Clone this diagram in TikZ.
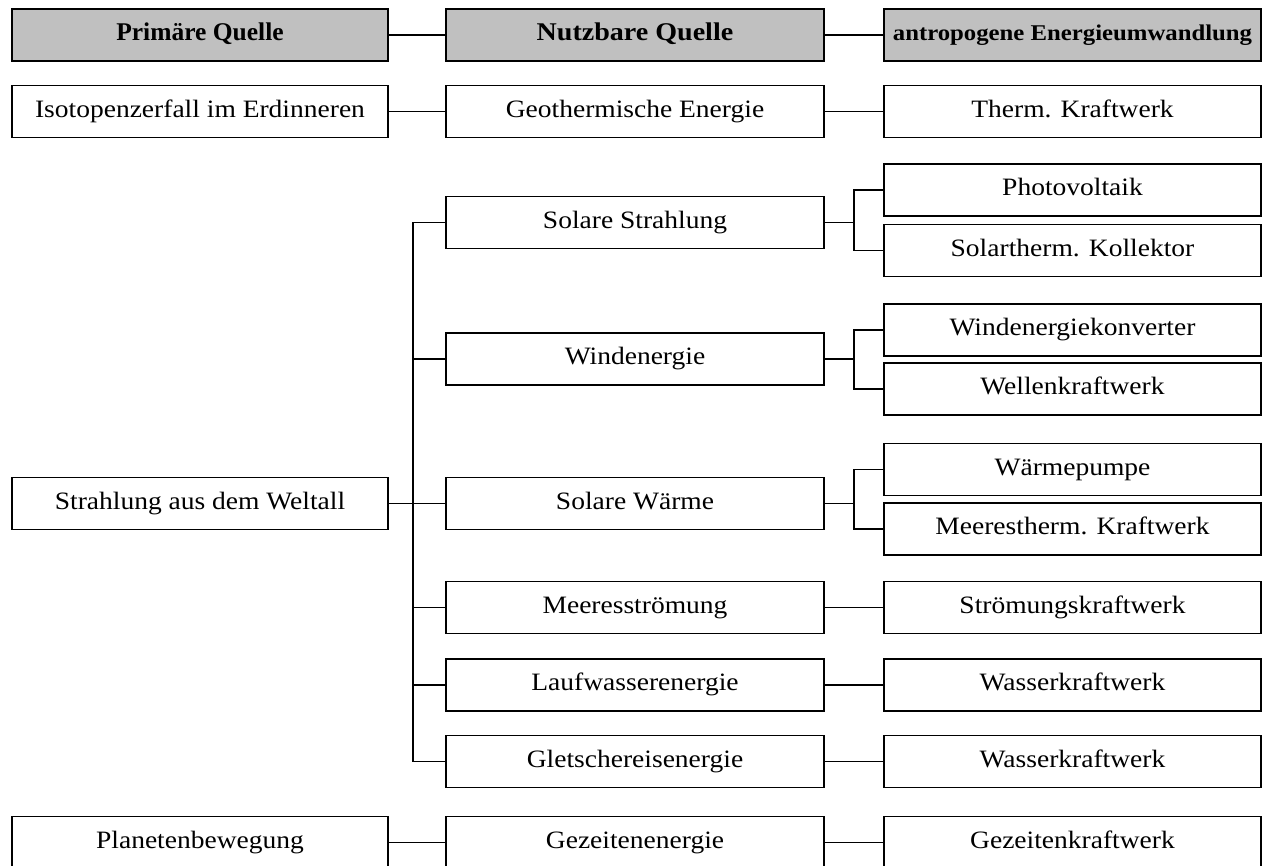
\documentclass[tikz,border=0pt]{standalone}
\usepackage{fontspec}
\setmainfont{Liberation Serif}
\newfontfamily\widefont[FakeStretch=1.1]{Liberation Serif}
\begin{document}
\begin{tikzpicture}[x=1pt,y=-1pt,
  box/.style={draw=black, line width=1.7pt, fill=white, inner sep=0pt, align=center,
    text height=16.5pt, text depth=5.5pt,
    font=\widefont\fontsize{25}{29}\selectfont},
  c1/.style={box, minimum width=376pt, minimum height=52pt},
  c2/.style={box, minimum width=378pt, minimum height=52pt},
  c3/.style={box, minimum width=377pt, minimum height=52pt},
  head/.style={fill=headgray, font=\fontsize{25.5}{29}\selectfont\bfseries},
  link/.style={draw=black, line width=1.8pt}
]
\definecolor{headgray}{HTML}{C0C0C0}
\useasboundingbox (0,0) rectangle (1266,865);
\coordinate (bx) at (413,0);
\coordinate (rx) at (854,0);
% header
\node[c1, head] (hp) at (200,35) {Primäre Quelle};
\node[c2, head, font=\widefont\fontsize{25.5}{29}\selectfont\bfseries] (hn) at (635,35) {Nutzbare Quelle};
\node[c3, head, font=\widefont\fontsize{22.5}{26}\selectfont\bfseries] (ha) at (1072.5,35) {antropogene Energieumwandlung};
% row 2
\node[c1] (iso) at (200,111.5) {Isotopenzerfall im Erdinneren};
\node[c2] (geo) at (635,111.5) {Geothermische Energie};
\node[c3] (thk) at (1072.5,111.5) {Therm. Kraftwerk};
% radiation block
\node[c1] (sw) at (200,503.5) {Strahlung aus dem Weltall};
\node[c2] (ss) at (635,222.5) {Solare Strahlung};
\node[c3] (pv) at (1072.5,190) {Photovoltaik};
\node[c3] (sk) at (1072.5,250.5) {Solartherm. Kollektor};
\node[c2] (we) at (635,359) {Windenergie};
\node[c3] (wk) at (1072.5,330) {Windenergiekonverter};
\node[c3] (wl) at (1072.5,389) {Wellenkraftwerk};
\node[c2] (sr) at (635,503.5) {Solare Wärme};
\node[c3] (wp) at (1072.5,469.5) {Wärmepumpe};
\node[c3] (mk) at (1072.5,529) {Meerestherm. Kraftwerk};
\node[c2] (ms) at (635,607.5) {Meeresströmung};
\node[c3] (sm) at (1072.5,607.5) {Strömungskraftwerk};
\node[c2] (lw) at (635,685) {Laufwasserenergie};
\node[c3] (wa) at (1072.5,685) {Wasserkraftwerk};
\node[c2] (gl) at (635,761.5) {Gletschereisenergie};
\node[c3] (wb) at (1072.5,761.5) {Wasserkraftwerk};
% planets
\node[c1] (pb) at (200,842.5) {Planetenbewegung};
\node[c2] (ge) at (635,842.5) {Gezeitenenergie};
\node[c3] (gk) at (1072.5,842.5) {Gezeitenkraftwerk};
% connectors
\draw[link] (hp.east) -- (hn.west);
\draw[link] (hn.east) -- (ha.west);
\draw[link] (iso.east) -- (geo.west);
\draw[link] (geo.east) -- (thk.west);
\draw[link] (ss.west) -- (ss.west -| bx) -- (gl.west -| bx) -- (gl.west);
\draw[link] (we.west) -- (we.west -| bx);
\draw[link] (ms.west) -- (ms.west -| bx);
\draw[link] (lw.west) -- (lw.west -| bx);
\draw[link] (sw.east) -- (sr.west);
\draw[link] (ss.east) -- (ss.east -| rx);
\draw[link] (pv.west) -- (pv.west -| rx) -- (sk.west -| rx) -- (sk.west);
\draw[link] (we.east) -- (we.east -| rx);
\draw[link] (wk.west) -- (wk.west -| rx) -- (wl.west -| rx) -- (wl.west);
\draw[link] (sr.east) -- (sr.east -| rx);
\draw[link] (wp.west) -- (wp.west -| rx) -- (mk.west -| rx) -- (mk.west);
\draw[link] (ms.east) -- (sm.west);
\draw[link] (lw.east) -- (wa.west);
\draw[link] (gl.east) -- (wb.west);
\draw[link] (pb.east) -- (ge.west);
\draw[link] (ge.east) -- (gk.west);
\end{tikzpicture}
\end{document}
